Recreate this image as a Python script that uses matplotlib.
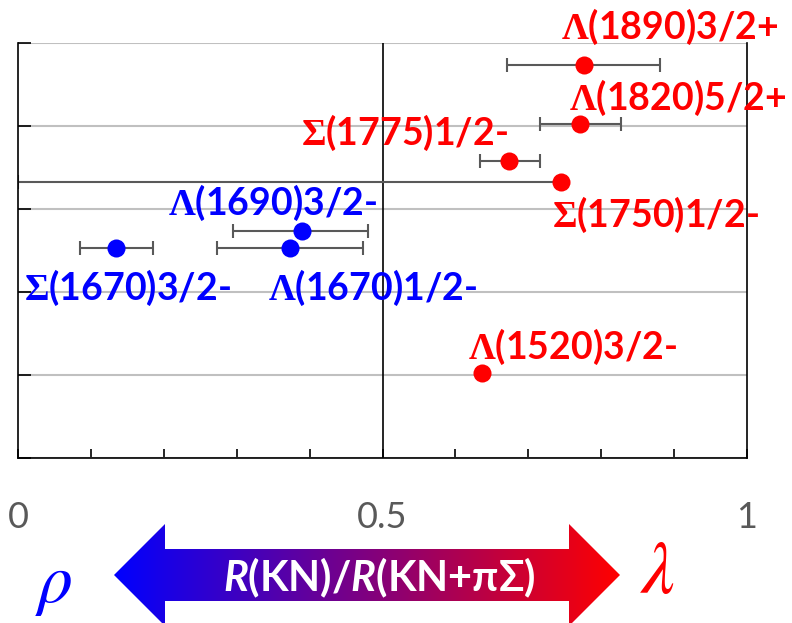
import matplotlib
matplotlib.use("Agg")
import matplotlib.pyplot as plt
import numpy as np
from matplotlib.colors import LinearSegmentedColormap
from matplotlib.patches import Polygon

plt.rcParams["font.family"] = ["Lato", "DejaVu Sans"]
plt.rcParams["mathtext.fontset"] = "custom"
plt.rcParams["mathtext.rm"] = "Lato:bold"
plt.rcParams["mathtext.it"] = "Lato:italic:bold"
plt.rcParams["mathtext.bf"] = "Liberation Serif:bold"

# Hyperon states: ratio R(KN)/R(KN+pi Sigma) vs mass
particle = ["Lambda", "Lambda", "Sigma", "Sigma", "Lambda", "Lambda", "Sigma", "Lambda"]
mass = [1890, 1820, 1775, 1750, 1690, 1670, 1670, 1520]
spin = ["3/2+", "5/2+", "1/2-", "1/2-", "3/2-", "1/2-", "3/2-", "3/2-"]
ratio = [0.776, 0.771, 0.674, 0.745, 0.390, 0.373, 0.134, 0.636]
err_lo = [0.105, 0.055, 0.040, 0.745, 0.095, 0.100, 0.049, 0.0]
err_hi = [0.105, 0.056, 0.042, 0.0, 0.090, 0.100, 0.051, 0.0]
side = ["lam", "lam", "lam", "lam", "rho", "rho", "rho", "lam"]

# label placement relative to each point (pixels)
label_offset = [(86, 38), (98, 26), (-105, 28), (94, -33),
                (-30, 28), (83, -40), (12, -40), (91, 26)]

COLORS = {"lam": "#FF0000", "rho": "#0000FF"}
GRAY = "#595959"

fig = plt.figure(figsize=(7.92, 6.23), dpi=100)
ax = fig.add_axes([18 / 792, 1 - 458 / 623, 729 / 792, 415 / 623])

ax.set_xlim(0, 1)
ax.set_ylim(1417, 1917)
ax.set_yticks(np.arange(1417, 1918, 100))
ax.set_yticklabels([])
xt = np.round(np.arange(0, 1.01, 0.1), 1)
ax.set_xticks(xt)
ax.set_xticklabels(["0" if v == 0 else "0.5" if v == 0.5 else "1" if v == 1 else "" for v in xt])
ax.tick_params(axis="y", direction="in", length=9.5, width=1.2)
ax.tick_params(axis="x", direction="in", length=6.5, width=1.2, pad=31,
               labelsize=26, labelcolor=GRAY)
ax.yaxis.grid(True, color="#c0c0c0", lw=1.5)
ax.set_axisbelow(True)
ax.spines["top"].set_visible(False)
for s in ("left", "right", "bottom"):
    ax.spines[s].set_linewidth(1.2)
ax.axvline(0.5, color="black", lw=1.2, zorder=1)

ax.errorbar(ratio, mass, xerr=[err_lo, err_hi], fmt="none", ecolor=GRAY,
            elinewidth=1.5, capsize=5, capthick=1.5, zorder=2)

for i in range(len(mass)):
    c = COLORS[side[i]]
    ax.plot(ratio[i], mass[i], "o", ms=13, color=c, mec="none", zorder=3)
    sym = r"$\mathbf{\Lambda}$" if particle[i] == "Lambda" else r"$\mathbf{\Sigma}$"
    ax.annotate(f"{sym}({mass[i]}){spin[i]}", (ratio[i], mass[i]),
                xytext=label_offset[i], textcoords="offset pixels",
                ha="center", va="center", color=c, fontsize=27,
                fontweight="bold", annotation_clip=False, zorder=4)

# Gradient arrow below the axis
ov = fig.add_axes([0, 0, 1, 1])
ov.set_axis_off()
pts = [(114, 575), (165, 524), (165, 549), (569, 549), (569, 524), (620, 575),
       (569, 626), (569, 601), (165, 601), (165, 626)]
cmap = LinearSegmentedColormap.from_list("br", ["#0000FF", "#FF0000"])
im = ov.imshow(np.linspace(0, 1, 256)[None, :], extent=[114, 620, 626, 524],
               cmap=cmap, aspect="auto")
poly = Polygon(pts, closed=True, facecolor="none", edgecolor="none")
ov.add_patch(poly)
im.set_clip_path(poly)
ov.set_xlim(0, 792)
ov.set_ylim(623, 0)

ov.text(379, 578, r"$\mathit{R}$(KN)/$\mathit{R}$(KN+πΣ)", color="white",
        fontsize=30, fontweight="bold", ha="center", va="center")
ov.text(54, 618, r"$\rho$", math_fontfamily="stix", color="#0000FF",
        fontsize=50, ha="center", va="bottom")
ov.text(658, 572, r"$\lambda$", math_fontfamily="stix", color="#FF0000",
        fontsize=54, ha="center", va="center")

fig.savefig("out.png", dpi=100)
